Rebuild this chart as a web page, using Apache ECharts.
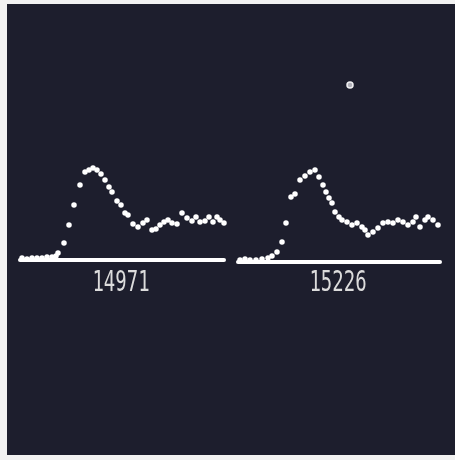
<!DOCTYPE html>
<html>
<head>
<meta charset="utf-8">
<script src="https://cdn.jsdelivr.net/npm/echarts@6/dist/echarts.min.js"></script>
<style>
html,body{margin:0;padding:0;background:#f2f2f2;}
#c{width:455px;height:460px;}
</style>
</head>
<body>
<div id="c"></div>
<script>
// Panel labels (run numbers)
const panelLabels = ['14971', '15226'];

// Panel 1 trace: sample position, amplitude
const trace1X = [2,7,12,17,22,27,32,36,38,44,49,54,60,65,69,73,77,81,85,89,92,97,101,105,108,113,118,123,127,132,136,140,144,148,152,157,162,167,172,176,180,185,189,193,197,200,204];
const trace1Y = [2,1,2,2,2,3,3,4,7,17,35,55,75,88,90,92,90,86,80,73,68,59,55,47,45,36,33,37,40,30,31,35,38,40,37,36,47,42,39,43,38,39,43,38,43,40,37];

// Panel 2 trace: sample position, amplitude
const trace2X = [2,7,12,18,24,30,34,39,44,48,53,57,62,67,72,77,81,85,88,91,94,97,101,104,109,114,119,124,127,130,135,140,145,150,155,160,165,170,175,178,182,187,190,195,200];
const trace2Y = [2,3,2,2,3,4,6,10,20,39,65,68,82,86,90,92,85,77,70,64,59,50,45,42,40,37,39,35,32,27,30,34,39,40,39,42,40,37,40,45,35,42,45,42,37];

// Isolated marker in panel 2
const markerX = [112];
const markerY = [177];

const zip = (xs, ys) => xs.map((x, i) => [x, ys[i]]);

const chart = echarts.init(document.getElementById('c'), null, {renderer: 'canvas'});
const ink = '#ffffff';
const hiddenY = {type: 'value', min: 0, max: 200, show: false};
const baseX = (idx, max) => ({
  type: 'value', gridIndex: idx, min: 0, max: max,
  axisLine: {show: true, onZero: true, lineStyle: {color: ink, width: 4, cap: 'round'}},
  axisTick: {show: false}, axisLabel: {show: false}, splitLine: {show: false}
});

chart.setOption({
  backgroundColor: '#f2f2f2',
  animation: false,
  grid: [
    {left: 20, top: 60, width: 204, height: 200},
    {left: 238, top: 62, width: 202, height: 200}
  ],
  xAxis: [baseX(0, 204), baseX(1, 202)],
  yAxis: [Object.assign({gridIndex: 0}, hiddenY), Object.assign({gridIndex: 1}, hiddenY)],
  graphic: [
    {type: 'rect', z: -10, shape: {x: 7, y: 4, width: 448, height: 451}, style: {fill: '#1d1e2d'}},
    {type: 'text', x: 121, y: 284, scaleY: 1.45, z: 10,
      style: {text: panelLabels[0], x: 0, y: 0, align: 'center', verticalAlign: 'middle',
        fill: '#dcdcdc', font: '19px "DejaVu Sans Mono"'}},
    {type: 'text', x: 338, y: 284, scaleY: 1.45, z: 10,
      style: {text: panelLabels[1], x: 0, y: 0, align: 'center', verticalAlign: 'middle',
        fill: '#dcdcdc', font: '19px "DejaVu Sans Mono"'}}
  ],
  series: [
    {type: 'scatter', xAxisIndex: 0, yAxisIndex: 0, data: zip(trace1X, trace1Y),
      symbolSize: 5.5, itemStyle: {color: ink, opacity: 1}},
    {type: 'scatter', xAxisIndex: 1, yAxisIndex: 1, data: zip(trace2X, trace2Y),
      symbolSize: 5.5, itemStyle: {color: ink, opacity: 1}},
    {type: 'scatter', xAxisIndex: 1, yAxisIndex: 1, data: zip(markerX, markerY),
      symbolSize: 6, itemStyle: {color: '#b0b0b8', borderColor: '#f0f0f2', borderWidth: 1.5, opacity: 1}}
  ]
});
</script>
</body>
</html>
